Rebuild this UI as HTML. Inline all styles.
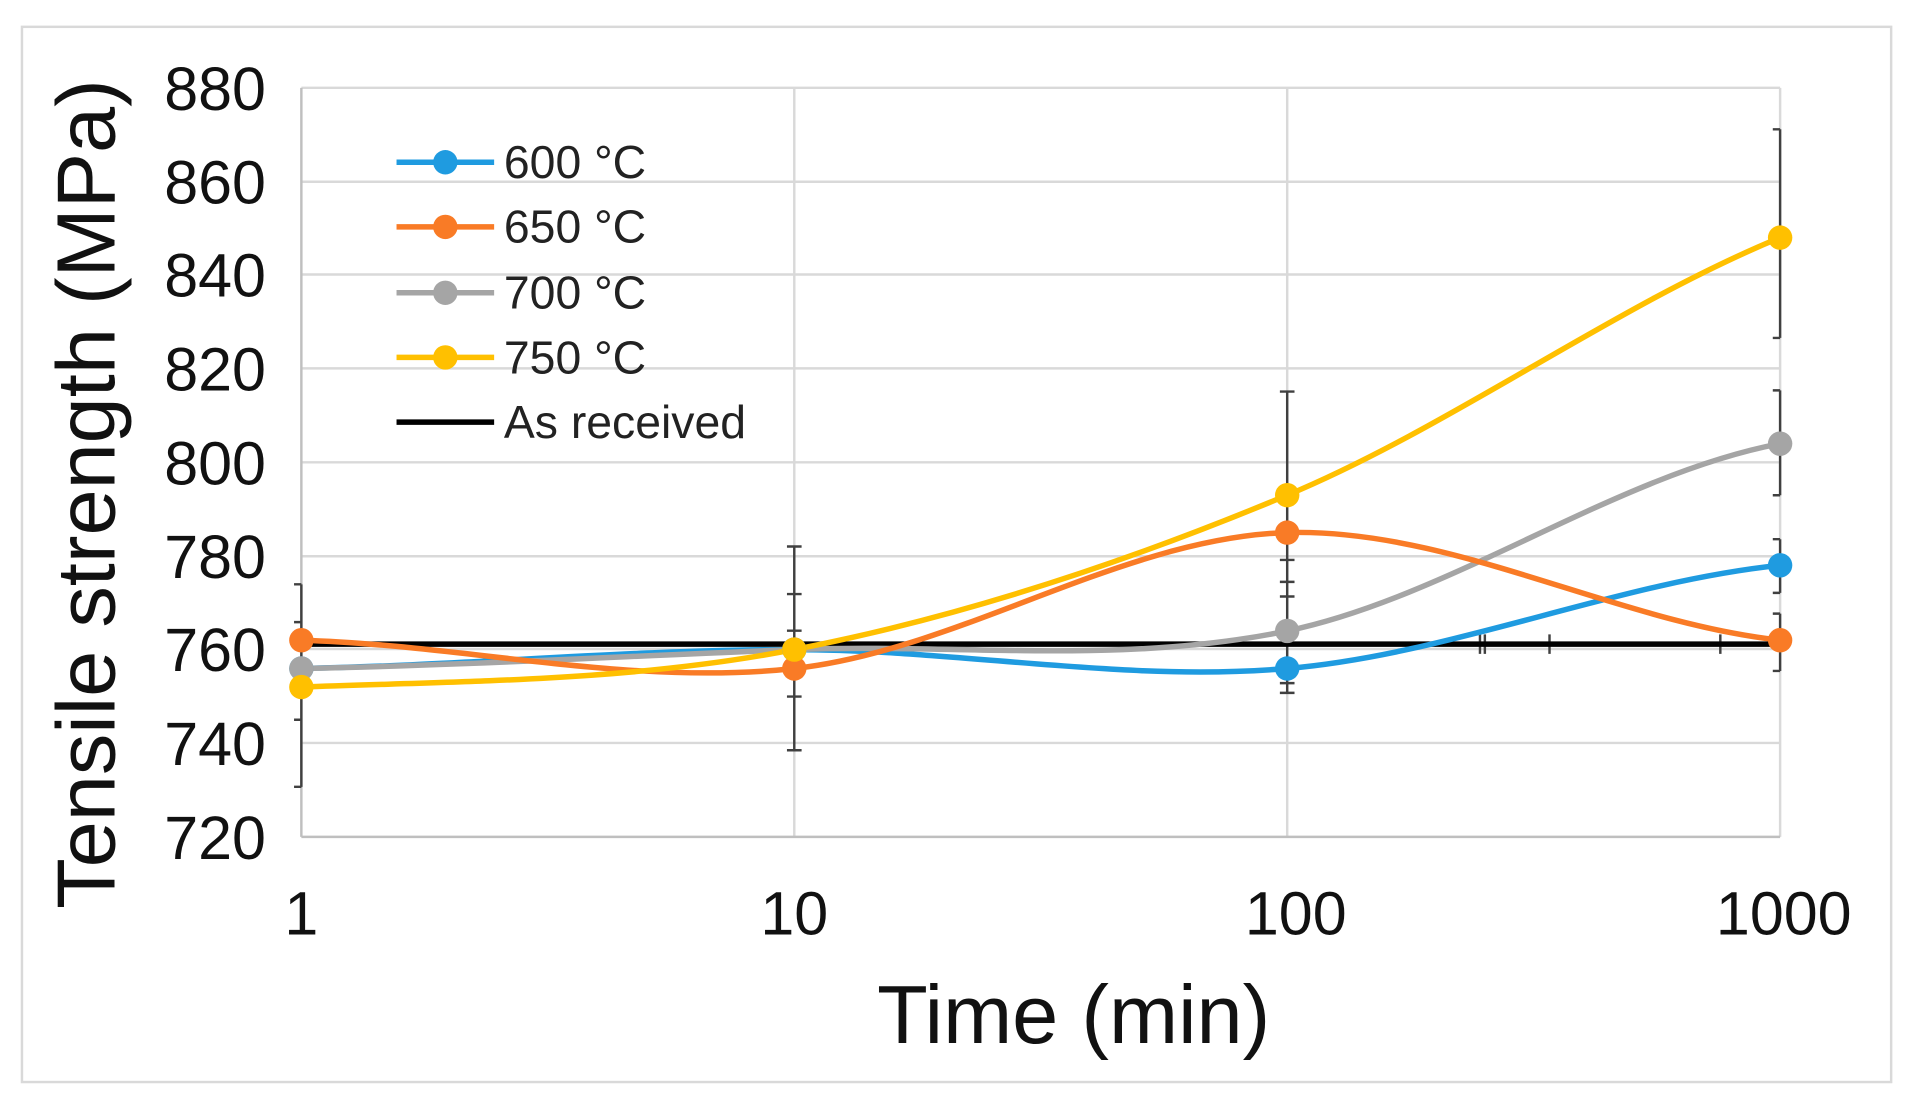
<!DOCTYPE html>
<html><head><style>html,body{margin:0;padding:0;background:#fff}svg{display:block}</style></head>
<body>
<svg width="1907" height="1104" viewBox="0 0 1563 905" preserveAspectRatio="none" xmlns="http://www.w3.org/2000/svg" font-family="Liberation Sans, sans-serif">
<rect x="0" y="0" width="1563" height="905" fill="#fff"/>
<rect x="18" y="22" width="1532" height="865" fill="none" stroke="#d9d9d9" stroke-width="2"/>
<g stroke="#d9d9d9" stroke-width="2">
<line x1="247" y1="72" x2="1459" y2="72"/><line x1="247" y1="149" x2="1459" y2="149"/>
<line x1="247" y1="225" x2="1459" y2="225"/><line x1="247" y1="302" x2="1459" y2="302"/>
<line x1="247" y1="379" x2="1459" y2="379"/><line x1="247" y1="456" x2="1459" y2="456"/>
<line x1="247" y1="532" x2="1459" y2="532"/><line x1="247" y1="609" x2="1459" y2="609"/>
<line x1="651" y1="72" x2="651" y2="686"/><line x1="1055" y1="72" x2="1055" y2="686"/><line x1="1459" y1="72" x2="1459" y2="686"/>
</g>
<g stroke="#bfbfbf" stroke-width="2"><line x1="247" y1="72" x2="247" y2="686"/><line x1="247" y1="686" x2="1459" y2="686"/></g>
<g stroke="#404040" stroke-width="2" fill="none">
<path d="M247 479V645M241 479h6M241 645h6M241 510h6M241 590h6"/>
<path d="M651 448V615M645 448h12M645 615h12M645 487h12M645 571h12M645 517h12M645 546h12"/>
<path d="M1055 321V568M1049 321h12M1049 459h12M1049 477h12M1049 489h12M1049 560h12M1049 568h12"/>
<path d="M1459 106V277M1453 106h6M1453 277h6M1453 320h6M1453 406h6M1459 320V406M1453 442h6M1453 486h6M1459 442V486M1453 503h6M1453 550h6M1459 503V550"/>
<path d="M1213 520v16M1217 520v16M1270 520v16M1410 520v16"/>
</g>
<line x1="247" y1="528" x2="1459" y2="528" stroke="#000" stroke-width="4.5"/>
<g fill="none" stroke-width="4.5">
<path stroke="#1f9be0" d="M247 548C381.7 545.4 516.3 532.5 651 532.5C785.7 532.5 920.3 559.5 1055 548C1189.7 536.5 1324.3 477.5 1459 463.4"/>
<path stroke="#a5a5a5" d="M247 548C381.7 545.4 516.3 537.6 651 532.5C785.7 527.4 920.3 545.3 1055 517.2C1189.7 489.1 1324.3 389.3 1459 363.7"/>
<path stroke="#f97b26" d="M247 524.8C381.7 528.7 516.3 562.7 651 548C785.7 533.3 920.3 440.5 1055 436.6C1189.7 432.7 1324.3 510.1 1459 524.8"/>
<path stroke="#ffc000" d="M247 563.2C381.7 558.1 516.3 558.7 651 532.5C785.7 506.3 920.3 462.2 1055 405.9C1189.7 349.6 1324.3 250 1459 194.8"/>
</g>
<g fill="#1f9be0"><circle cx="247" cy="548" r="10"/><circle cx="651" cy="532.5" r="10"/><circle cx="1055" cy="548" r="10"/><circle cx="1459" cy="463.4" r="10"/></g>
<g fill="#a5a5a5"><circle cx="247" cy="548" r="10"/><circle cx="651" cy="532.5" r="10"/><circle cx="1055" cy="517.2" r="10"/><circle cx="1459" cy="363.7" r="10"/></g>
<g fill="#f97b26"><circle cx="247" cy="524.8" r="10"/><circle cx="651" cy="548" r="10"/><circle cx="1055" cy="436.6" r="10"/><circle cx="1459" cy="524.8" r="10"/></g>
<g fill="#ffc000"><circle cx="247" cy="563.2" r="10"/><circle cx="651" cy="532.5" r="10"/><circle cx="1055" cy="405.9" r="10"/><circle cx="1459" cy="194.8" r="10"/></g>
<g stroke-width="4.5">
<line x1="325" y1="133" x2="405" y2="133" stroke="#1f9be0"/><circle cx="365" cy="133" r="10" fill="#1f9be0"/>
<line x1="325" y1="186" x2="405" y2="186" stroke="#f97b26"/><circle cx="365" cy="186" r="10" fill="#f97b26"/>
<line x1="325" y1="240" x2="405" y2="240" stroke="#a5a5a5"/><circle cx="365" cy="240" r="10" fill="#a5a5a5"/>
<line x1="325" y1="293" x2="405" y2="293" stroke="#ffc000"/><circle cx="365" cy="293" r="10" fill="#ffc000"/>
<line x1="325" y1="346" x2="405" y2="346" stroke="#000"/>
</g>
<g font-size="38" fill="#222">
<text x="413" y="146">600 °C</text><text x="413" y="199">650 °C</text><text x="413" y="253">700 °C</text><text x="413" y="306">750 °C</text><text x="413" y="359">As received</text>
</g>
<g font-size="50" fill="#111" text-anchor="end">
<text x="218" y="90">880</text><text x="218" y="167">860</text><text x="218" y="243">840</text><text x="218" y="320">820</text>
<text x="218" y="397">800</text><text x="218" y="474">780</text><text x="218" y="550">760</text><text x="218" y="627">740</text><text x="218" y="704">720</text>
</g>
<g font-size="50" fill="#111" text-anchor="middle">
<text x="247" y="766">1</text><text x="651" y="766">10</text><text x="1062" y="766">100</text><text x="1462" y="766">1000</text>
</g>
<text x="880" y="855" font-size="68" fill="#111" text-anchor="middle">Time (min)</text>
<text transform="translate(94,405) rotate(-90)" font-size="68" fill="#111" text-anchor="middle">Tensile strength (MPa)</text>
</svg>
</body></html>
